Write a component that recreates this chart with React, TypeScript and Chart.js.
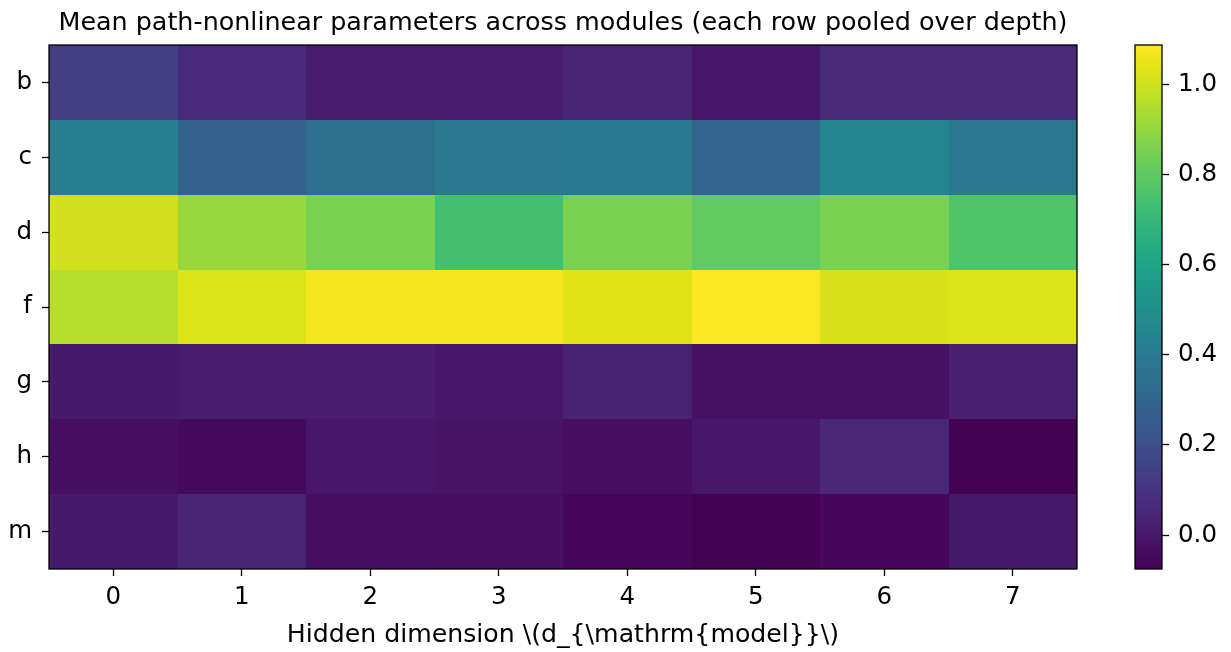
import React, { useEffect, useRef } from "react";
import { Chart, registerables } from "chart.js";

Chart.register(...registerables);

// Hidden-dimension columns and module rows
const columns = ["0", "1", "2", "3", "4", "5", "6", "7"];
const modules = ["b", "c", "d", "f", "g", "h", "m"];

// Mean parameter per module (row) and hidden dimension (column)
const rowB = [0.134, 0.064, 0.018, 0.018, 0.047, 0.0, 0.059, 0.059];
const rowC = [0.425, 0.291, 0.343, 0.39, 0.396, 0.297, 0.454, 0.39];
const rowD = [1.006, 0.907, 0.855, 0.738, 0.855, 0.802, 0.855, 0.767];
const rowF = [0.959, 1.023, 1.07, 1.07, 1.029, 1.087, 1.017, 1.025];
const rowG = [0.006, 0.018, 0.018, 0.0, 0.035, -0.023, -0.023, 0.025];
const rowH = [-0.029, -0.046, -0.005, -0.017, -0.029, 0.0, 0.053, -0.075];
const rowM = [0.006, 0.047, -0.034, -0.03, -0.063, -0.074, -0.052, 0.003];
const matrix = [rowB, rowC, rowD, rowF, rowG, rowH, rowM];

const colorbarTicks = [0.0, 0.2, 0.4, 0.6, 0.8, 1.0];

const titleText =
  "Mean path-nonlinear parameters across modules (each row pooled over depth)";
const xAxisText = "Hidden dimension \\(d_{\\mathrm{model}}\\)";

const FONT = "'DejaVu Sans', sans-serif";
const TICK_SIZE = 24.5;

// viridis sampled every 0.05
const viridis = [
  "#440154", "#471365", "#482475", "#463480", "#414487", "#3b528b",
  "#355f8d", "#2f6c8e", "#2a788e", "#25848e", "#21918c", "#1e9c89",
  "#22a884", "#2fb47c", "#44bf70", "#5ec962", "#7ad151", "#9bd93c",
  "#bddf26", "#dfe318", "#fde725",
];

function hexToRgb(h: string): number[] {
  return [1, 3, 5].map((i) => parseInt(h.slice(i, i + 2), 16));
}
const viridisRgb = viridis.map(hexToRgb);

function colormap(t: number): string {
  const c = Math.max(0, Math.min(1, t)) * (viridisRgb.length - 1);
  const i = Math.min(viridisRgb.length - 2, Math.floor(c));
  const f = c - i;
  const a = viridisRgb[i];
  const b = viridisRgb[i + 1];
  const rgb = a.map((v, k) => Math.round(v + (b[k] - v) * f));
  return `rgb(${rgb[0]},${rgb[1]},${rgb[2]})`;
}

const allValues = matrix.flat();
const vmin = Math.min(...allValues);
const vmax = Math.max(...allValues);
const norm = (v: number) => (v - vmin) / (vmax - vmin);

const heatmapPlugin = {
  id: "heatmapCells",
  beforeDatasetsDraw(chart: any) {
    const { ctx, scales } = chart;
    const xs = scales.x;
    const ys = scales.y;
    const cw = xs.getPixelForValue(1) - xs.getPixelForValue(0);
    const ch = ys.getPixelForValue(1) - ys.getPixelForValue(0);
    ctx.save();
    matrix.forEach((row, r) => {
      row.forEach((v, c) => {
        const cx = xs.getPixelForValue(c);
        const cy = ys.getPixelForValue(r);
        const x0 = Math.round(cx - cw / 2);
        const x1 = Math.round(cx + cw / 2);
        const y0 = Math.round(cy - ch / 2);
        const y1 = Math.round(cy + ch / 2);
        ctx.fillStyle = colormap(norm(v));
        ctx.fillRect(x0, y0, x1 - x0, y1 - y0);
      });
    });
    ctx.restore();
  },
  afterDatasetsDraw(chart: any) {
    const { ctx, chartArea: a } = chart;
    ctx.save();
    ctx.strokeStyle = "#000";
    ctx.lineWidth = 1.3;
    ctx.strokeRect(a.left, a.top, a.right - a.left, a.bottom - a.top);
    ctx.fillStyle = "#000";
    ctx.textAlign = "center";
    ctx.textBaseline = "alphabetic";
    const mid = (a.left + a.right) / 2;
    ctx.font = `25.4px ${FONT}`;
    ctx.fillText(titleText, mid, 30);
    ctx.font = `25.2px ${FONT}`;
    ctx.fillText(xAxisText, mid, 642);
    ctx.restore();
  },
};

const colorbarPlugin = {
  id: "colorbarFill",
  beforeDatasetsDraw(chart: any) {
    const { ctx, chartArea: a, scales } = chart;
    const ys = scales.y;
    ctx.save();
    for (let py = Math.floor(a.top); py < Math.ceil(a.bottom); py++) {
      const v = ys.getValueForPixel(py + 0.5);
      ctx.fillStyle = colormap(norm(v));
      ctx.fillRect(a.left, py, a.right - a.left, 1);
    }
    ctx.strokeStyle = "#000";
    ctx.lineWidth = 1.3;
    ctx.strokeRect(a.left, a.top, a.right - a.left, a.bottom - a.top);
    ctx.restore();
  },
};

export default function App() {
  const mainRef = useRef<HTMLCanvasElement>(null);
  const barRef = useRef<HTMLCanvasElement>(null);

  useEffect(() => {
    const points = matrix.flatMap((row, r) =>
      row.map((v, c) => ({ x: columns[c], y: modules[r], v }))
    );
    const main = new Chart(mainRef.current!, {
      type: "scatter",
      data: {
        datasets: [{ data: points as any, pointRadius: 0, pointHoverRadius: 0 }],
      },
      options: {
        animation: false,
        responsive: false,
        events: [],
        layout: { padding: { top: 45, right: 23, left: 0, bottom: 0 } },
        plugins: { legend: { display: false }, tooltip: { enabled: false } },
        scales: {
          x: {
            type: "category",
            labels: columns,
            offset: true,
            grid: {
              offset: false,
              drawOnChartArea: false,
              tickLength: 7,
              tickColor: "#000",
              tickWidth: 1.3,
            },
            border: { display: false },
            ticks: {
              color: "#000",
              font: { family: FONT, size: TICK_SIZE },
              padding: 7,
              maxRotation: 0,
              autoSkip: false,
            },
            afterFit(s: any) {
              s.height = 83;
            },
          },
          y: {
            type: "category",
            labels: modules,
            offset: true,
            grid: {
              offset: false,
              drawOnChartArea: false,
              tickLength: 7,
              tickColor: "#000",
              tickWidth: 1.3,
            },
            border: { display: false },
            ticks: {
              color: "#000",
              font: { family: FONT, size: TICK_SIZE },
              padding: 10,
              autoSkip: false,
            },
            afterFit(s: any) {
              s.width = 49;
            },
          },
        },
      },
      plugins: [heatmapPlugin],
    });

    const bar = new Chart(barRef.current!, {
      type: "scatter",
      data: { datasets: [{ data: [], pointRadius: 0 }] },
      options: {
        animation: false,
        responsive: false,
        events: [],
        layout: { padding: { top: 45, bottom: 83, left: 35, right: 0 } },
        plugins: { legend: { display: false }, tooltip: { enabled: false } },
        scales: {
          x: { display: false, min: 0, max: 1 },
          y: {
            position: "right",
            min: vmin,
            max: vmax,
            afterBuildTicks(s: any) {
              s.ticks = colorbarTicks.map((value) => ({ value }));
            },
            grid: {
              drawOnChartArea: false,
              tickLength: 7,
              tickColor: "#000",
              tickWidth: 1.3,
            },
            border: { display: false },
            ticks: {
              color: "#000",
              font: { family: FONT, size: TICK_SIZE },
              padding: 9,
              callback: (v: any) => Number(v).toFixed(1),
            },
            afterFit(s: any) {
              s.width = 69;
            },
          },
        },
      },
      plugins: [colorbarPlugin],
    });

    return () => {
      main.destroy();
      bar.destroy();
    };
  }, []);

  return (
    <div
      style={{
        position: "fixed",
        left: 0,
        top: 0,
        width: 1231,
        height: 652,
        background: "#fff",
      }}
    >
      <canvas
        ref={mainRef}
        width={1100}
        height={652}
        style={{ position: "absolute", left: 0, top: 0, width: 1100, height: 652 }}
      />
      <canvas
        ref={barRef}
        width={131}
        height={652}
        style={{ position: "absolute", left: 1100, top: 0, width: 131, height: 652 }}
      />
    </div>
  );
}
